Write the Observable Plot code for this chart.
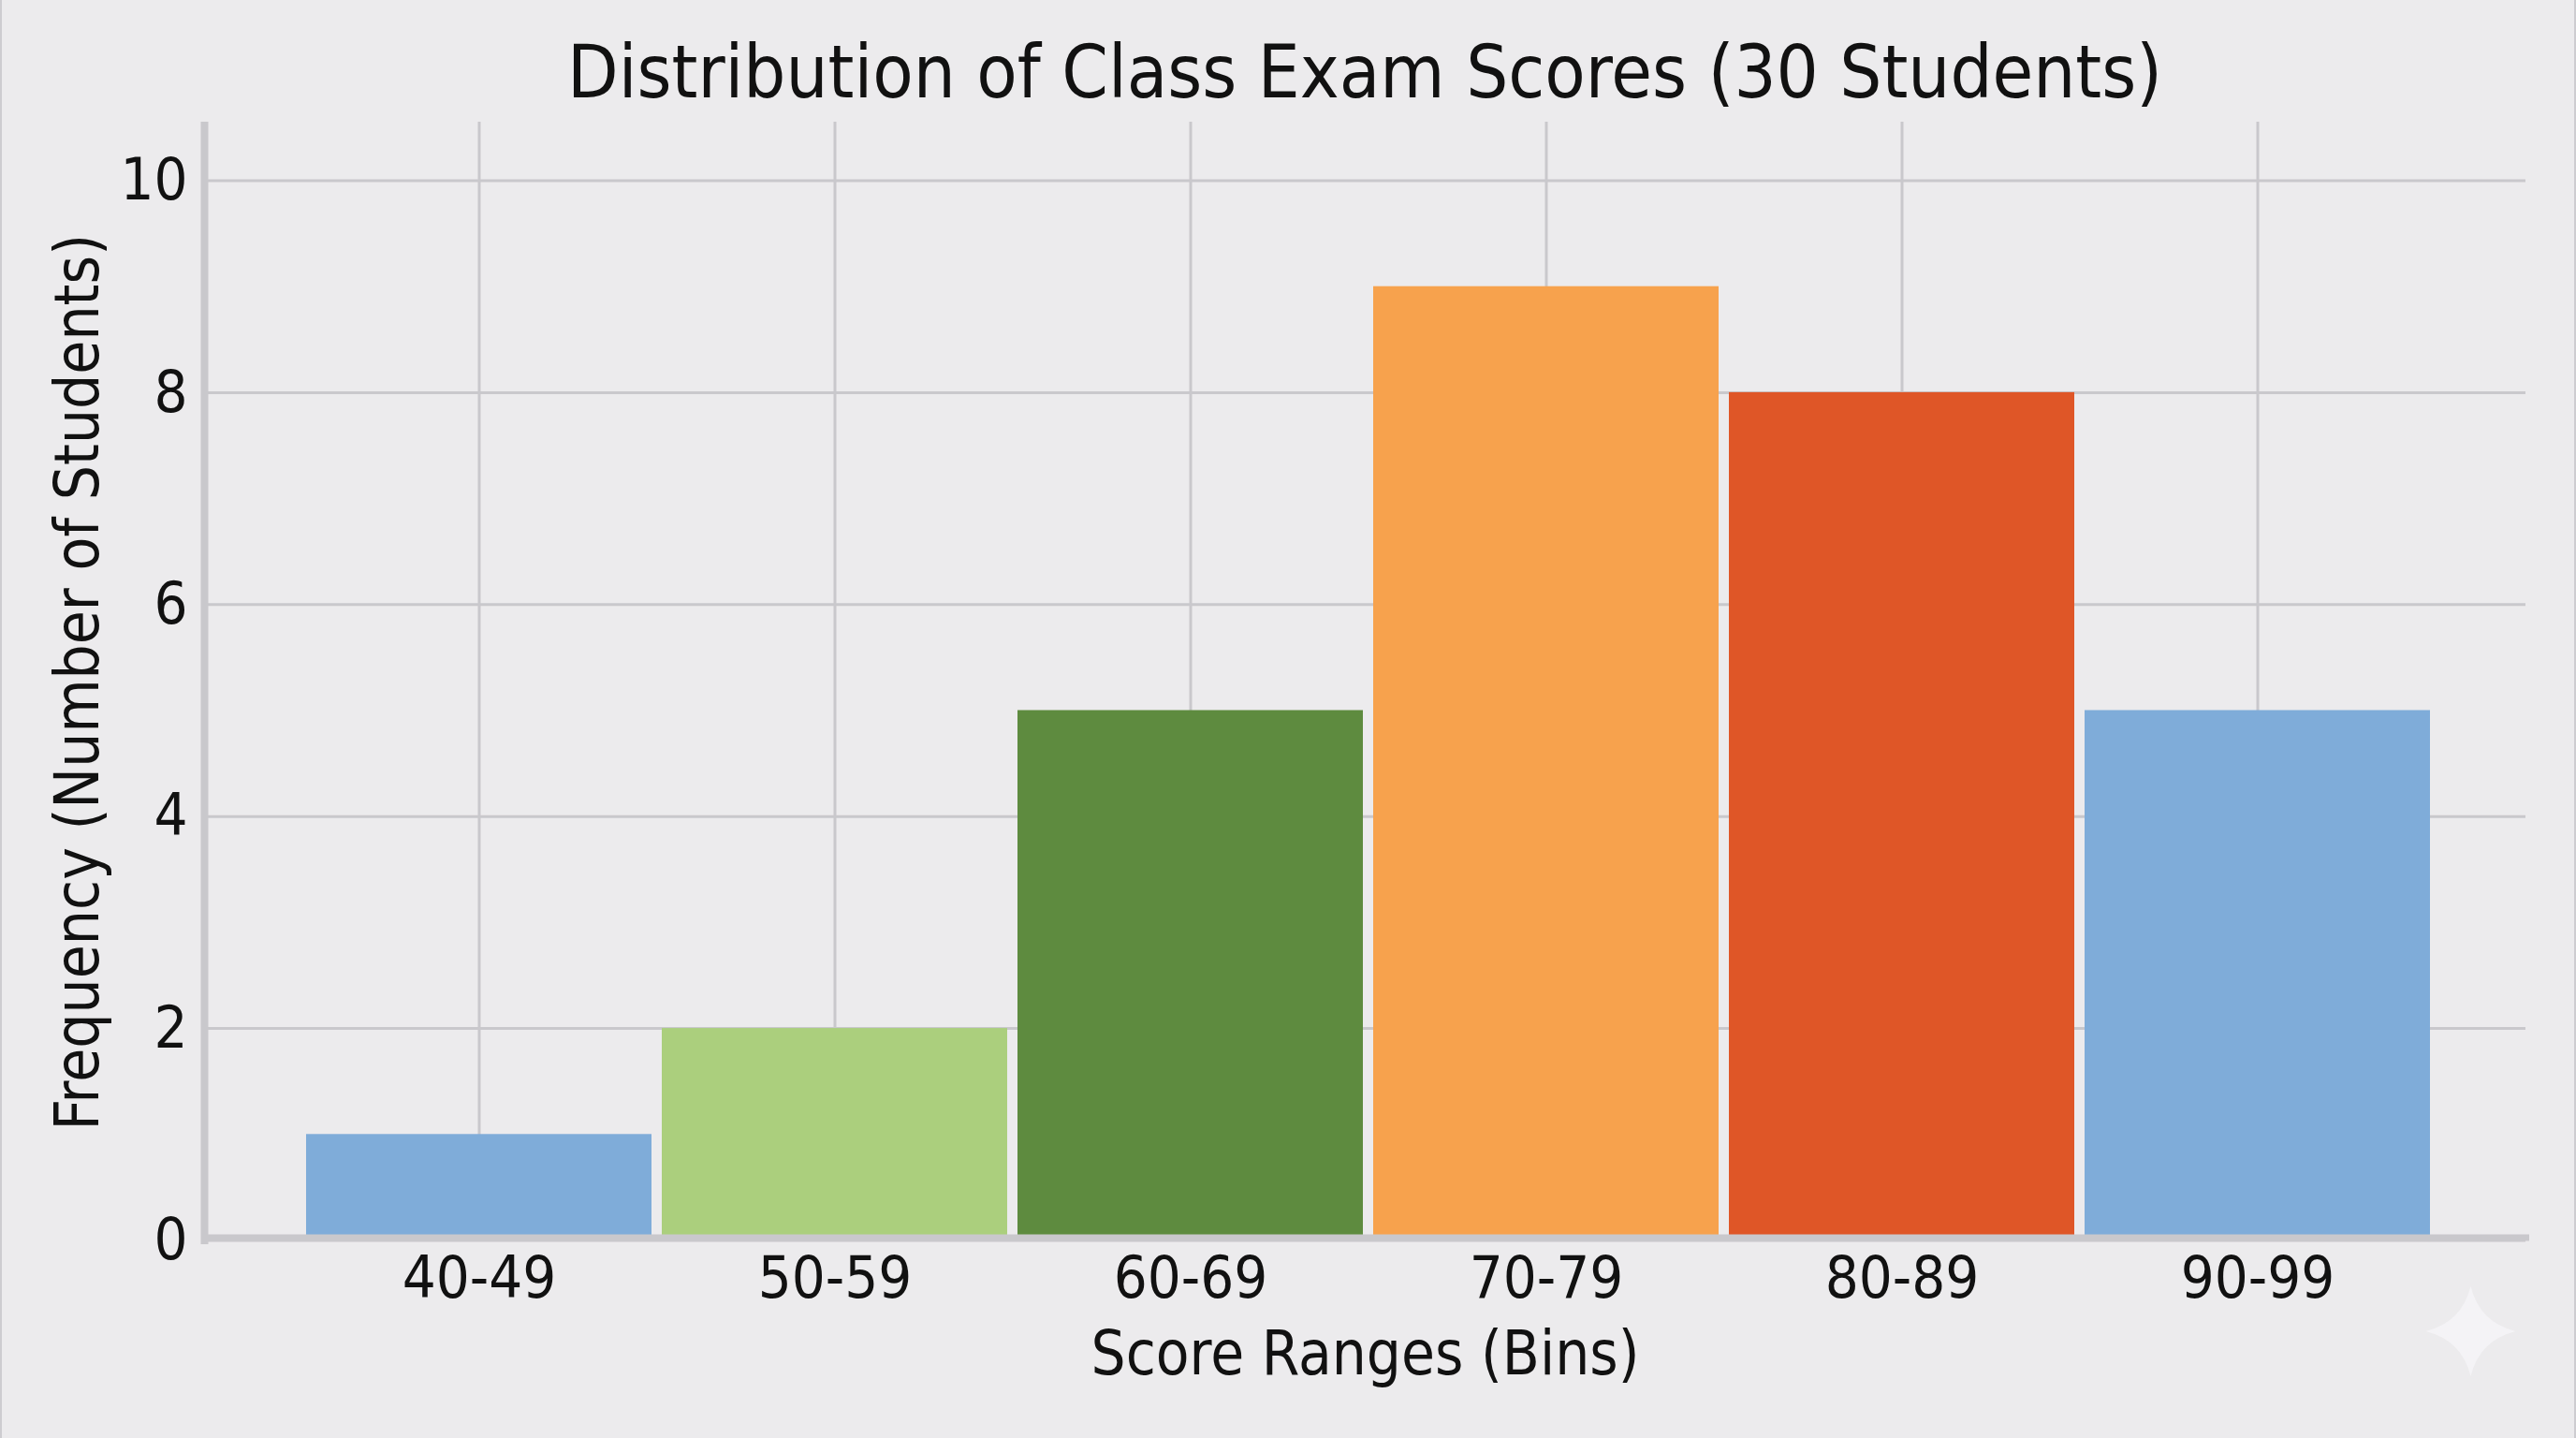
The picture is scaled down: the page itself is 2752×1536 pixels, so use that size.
<!DOCTYPE html>
<html>
<head>
<meta charset="utf-8">
<script src="https://cdn.jsdelivr.net/npm/d3@7"></script>
<script src="https://cdn.jsdelivr.net/npm/@observablehq/plot@0.6"></script>
<style>
  html, body { margin: 0; padding: 0; background: #ECEBED; }
  body { width: 2752px; height: 1536px; overflow: hidden; font-family: "DejaVu Sans Condensed", "DejaVu Sans", sans-serif;
         font-stretch: condensed; box-shadow: inset 2px 0 0 #CDCCD0, inset -2px 0 0 #CDCCD0; }
  #title { margin: 0; box-sizing: border-box; width: 2752px; height: 130px; padding-left: 164px;
           text-align: center; font-weight: 400; font-size: 79px; line-height: 154px; color: #111; white-space: nowrap; }
  svg { display: block; }
</style>
</head>
<body>
<h1 id="title"></h1>
<div id="chart"></div>
<script>
const chartTitle = "Distribution of Class Exam Scores (30 Students)";
const xLabel = "Score Ranges (Bins)";
const yLabel = "Frequency (Number of Students)";
const bins = ["40-49", "50-59", "60-69", "70-79", "80-89", "90-99"];
const counts = [1, 2, 5, 9, 8, 5];
const binColors = ["#7FACD9", "#ABCF7D", "#5E8B3F", "#F7A24D", "#DF5627", "#7FACD9"];
const yTicks = [0, 2, 4, 6, 8, 10];

const rows = bins.map((bin, i) => ({bin, count: counts[i]}));
const axisColor = "#C9C8CC";
const inkColor = "#111111";

// faint four-pointed sparkle in the lower right corner
const sparkle = {
  draw(ctx, size) {
    const R = Math.sqrt(size / Math.PI), k = R * 0.2;
    ctx.moveTo(0, -R);
    ctx.quadraticCurveTo(k, -k, R, 0);
    ctx.quadraticCurveTo(k, k, 0, R);
    ctx.quadraticCurveTo(-k, k, -R, 0);
    ctx.quadraticCurveTo(-k, -k, 0, -R);
    ctx.closePath();
  }
};

document.getElementById("title").textContent = chartTitle;

const plot = Plot.plot({
  width: 2752,
  height: 1406,
  marginTop: 0,
  marginLeft: 218,
  marginRight: 54,
  marginBottom: 211.5,
  style: {background: "transparent", fontFamily: "'DejaVu Sans Condensed', 'DejaVu Sans', sans-serif", fontStretch: "condensed", color: inkColor},
  x: {type: "band", domain: bins, range: [321.6, 2602.4], paddingInner: 0.028, paddingOuter: 0.014},
  y: {domain: [0, 10.552]},
  color: {type: "ordinal", domain: bins, range: binColors},
  marks: [
    Plot.gridX(bins, {x: d => d, stroke: axisColor, strokeWidth: 3, strokeOpacity: 1}),
    Plot.gridY(yTicks, {y: d => d, stroke: axisColor, strokeWidth: 3, strokeOpacity: 1}),
    Plot.barY(rows, {x: "bin", y: "count", fill: "bin"}),
    Plot.frame({anchor: "left", stroke: axisColor, strokeWidth: 8}),
    Plot.frame({anchor: "bottom", insetBottom: 3, stroke: axisColor, strokeWidth: 7}),
    Plot.axisX({tickSize: 0, tickPadding: 16, fontSize: 63, fill: inkColor, label: null}),
    Plot.axisY({ticks: yTicks, tickFormat: d => String(d), tickSize: 0, tickPadding: 18, fontSize: 63, fill: inkColor, label: null}),
    Plot.text([xLabel], {text: d => d, frameAnchor: "bottom", dy: 143, fontSize: 65, fill: inkColor}),
    Plot.text([yLabel], {text: d => d, frameAnchor: "left", textAnchor: "middle", dx: -134, dy: 1, rotate: -90, fontSize: 65.2, fill: inkColor}),
    Plot.dot([chartTitle], {frameAnchor: "bottom-right", dx: -59, dy: 97, r: 48, symbol: sparkle, fill: "#F4F3F6", stroke: "none"})
  ]
});
document.getElementById("chart").appendChild(plot);
</script>
</body>
</html>
